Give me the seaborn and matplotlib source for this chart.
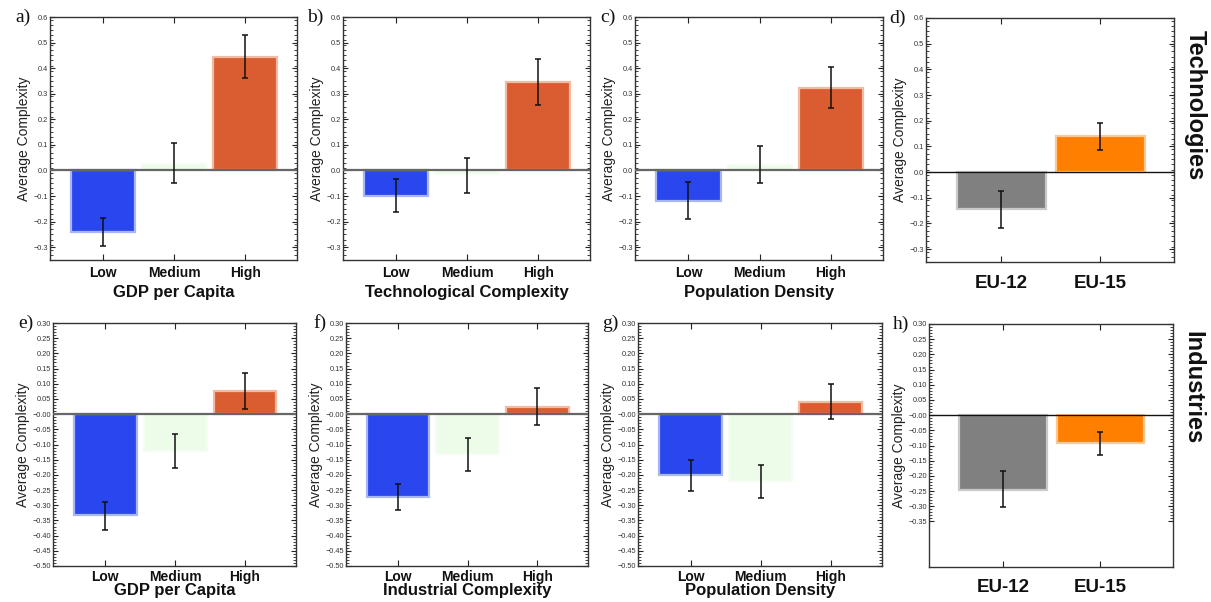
import numpy as np
import pandas as pd
import matplotlib
matplotlib.use("Agg")
import matplotlib.pyplot as plt
from matplotlib.ticker import FixedLocator
import seaborn as sns

sns.set_theme(style="white")
plt.rcParams["font.family"] = ["Liberation Sans", "DejaVu Sans"]

# ---- data -------------------------------------------------------------
levels = ["Low", "Medium", "High"]
regions = ["EU-12", "EU-15"]

# Technologies (top row)
tech_gdp = [-0.240, 0.025, 0.445]
tech_gdp_lo = [-0.295, -0.048, 0.362]
tech_gdp_hi = [-0.185, 0.107, 0.530]

tech_cplx = [-0.100, -0.015, 0.345]
tech_cplx_lo = [-0.162, -0.090, 0.257]
tech_cplx_hi = [-0.035, 0.050, 0.435]

tech_dens = [-0.120, 0.022, 0.322]
tech_dens_lo = [-0.190, -0.050, 0.243]
tech_dens_hi = [-0.047, 0.094, 0.406]

tech_eu = [-0.144, 0.139]
tech_eu_lo = [-0.218, 0.086]
tech_eu_hi = [-0.073, 0.191]

# Industries (bottom row)
ind_gdp = [-0.333, -0.122, 0.077]
ind_gdp_lo = [-0.382, -0.176, 0.018]
ind_gdp_hi = [-0.288, -0.066, 0.136]

ind_cplx = [-0.274, -0.131, 0.024]
ind_cplx_lo = [-0.317, -0.188, -0.037]
ind_cplx_hi = [-0.229, -0.077, 0.087]

ind_dens = [-0.200, -0.221, 0.041]
ind_dens_lo = [-0.254, -0.275, -0.015]
ind_dens_hi = [-0.150, -0.169, 0.099]

ind_eu = [-0.245, -0.093]
ind_eu_lo = [-0.304, -0.130]
ind_eu_hi = [-0.184, -0.056]

# ---- styling ----------------------------------------------------------
level_colors = {"Low": "#2a47ef", "Medium": "#edfbe9", "High": "#d95d30"}
level_edges = {"Low": "#aab7f7", "Medium": "#f5fdf3", "High": "#f2b9a5"}
region_colors = {"EU-12": "#808080", "EU-15": "#ff8000"}
region_edges = {"EU-12": "#c9c9c9", "EU-15": "#ffc890"}

W, H = 1211, 602
fig = plt.figure(figsize=(W / 100, H / 100), dpi=100)


def axes_at(left, top, right, bottom):
    return fig.add_axes([left / W, 1 - bottom / H, (right - left) / W, (bottom - top) / H])


def panel(ax, cats, vals, lo, hi, colors, edges, letter, xlabel, ylim,
          major, minor, tick_range=None, eu=False, xpad=4):
    df = pd.DataFrame({"cat": cats, "val": vals})
    sns.barplot(data=df, x="cat", y="val", hue="cat", palette=colors,
                order=cats, hue_order=cats, width=0.9, errorbar=None,
                legend=False, ax=ax, saturation=1)
    for patch, c in zip(ax.patches, cats):
        patch.set_edgecolor(edges[c])
        patch.set_linewidth(1.6)
    x = np.arange(len(cats))
    v = np.array(vals)
    yerr = np.vstack([v - np.array(lo), np.array(hi) - v])
    ax.errorbar(x, v, yerr=yerr, fmt="none", ecolor="#111111",
                elinewidth=1.1, capsize=2.2, capthick=1.1, zorder=5)
    if eu:
        ax.axhline(0, color="#111111", lw=1.0, zorder=4)
        ax.set_xlim(-0.76, 1.745)
    else:
        ax.axhline(0, color="#666666", lw=1.6, zorder=4)
        ax.set_xlim(-0.75, 2.73)
    ax.set_ylim(*ylim)

    if tick_range is None:
        lo_t, hi_t = ylim
    else:
        lo_t, hi_t = tick_range
    majors = np.round(np.arange(np.ceil(lo_t / major - 1e-6) * major, hi_t + 1e-9, major), 4)
    minors = np.round(np.arange(lo_t, hi_t + 1e-9, minor), 4)
    ax.yaxis.set_major_locator(FixedLocator(majors))
    ax.yaxis.set_minor_locator(FixedLocator(minors))
    fmt = "{:.2f}" if major < 0.1 else "{:.1f}"
    ax.set_yticklabels([fmt.format(m).replace("-", "\u2212") for m in majors])
    ax.tick_params(axis="y", which="major", direction="in", length=3.5, width=0.8,
                   left=True, right=True, labelsize=5.3, labelcolor="#333333", pad=1.5,
                   color="#222222")
    ax.tick_params(axis="y", which="minor", direction="in", length=2, width=0.6,
                   left=True, right=True, color="#222222")
    ax.tick_params(axis="x", which="major", direction="in", length=4, width=0.8,
                   bottom=True, top=True, color="#222222",
                   labelsize=13.5 if eu else 10, pad=9 if eu else xpad,
                   labelcolor="#111111")
    for t in ax.get_xticklabels():
        t.set_fontweight("bold")

    ax.set_ylabel("Average Complexity", fontsize=10, color="#222222", labelpad=2)
    if xlabel:
        ax.set_xlabel(xlabel, fontsize=12, fontweight="bold", color="#111111")
    else:
        ax.set_xlabel("")
    for s in ax.spines.values():
        s.set_color("#333333")
        s.set_linewidth(1.0)
        s.set_visible(True)
    ax.text(-0.08, 1.0, letter, transform=ax.transAxes, ha="right", va="center",
            fontsize=14, family=["Liberation Serif", "DejaVu Serif"], color="#111111")


# top row
ax_a = axes_at(50, 17, 297, 260)
ax_b = axes_at(343, 17, 590, 260)
ax_c = axes_at(635, 17, 883, 260)
ax_d = axes_at(926, 18, 1174, 262)
# bottom row
ax_e = axes_at(53, 323, 296, 566)
ax_f = axes_at(346, 323, 588, 566)
ax_g = axes_at(638, 323, 882, 566)
ax_h = axes_at(929, 324, 1173, 567)

top_lim = (-0.35, 0.6)
bot_lim = (-0.5, 0.3)

panel(ax_a, levels, tech_gdp, tech_gdp_lo, tech_gdp_hi, level_colors, level_edges,
      "a)", "GDP per Capita", top_lim, 0.1, 0.02)
panel(ax_b, levels, tech_cplx, tech_cplx_lo, tech_cplx_hi, level_colors, level_edges,
      "b)", "Technological Complexity", top_lim, 0.1, 0.02)
panel(ax_c, levels, tech_dens, tech_dens_lo, tech_dens_hi, level_colors, level_edges,
      "c)", "Population Density", top_lim, 0.1, 0.02)
panel(ax_d, regions, tech_eu, tech_eu_lo, tech_eu_hi, region_colors, region_edges,
      "d)", None, top_lim, 0.1, 0.02, eu=True)

panel(ax_e, levels, ind_gdp, ind_gdp_lo, ind_gdp_hi, level_colors, level_edges,
      "e)", "GDP per Capita", bot_lim, 0.05, 0.01, xpad=3)
panel(ax_f, levels, ind_cplx, ind_cplx_lo, ind_cplx_hi, level_colors, level_edges,
      "f)", "Industrial Complexity", bot_lim, 0.05, 0.01, xpad=3)
panel(ax_g, levels, ind_dens, ind_dens_lo, ind_dens_hi, level_colors, level_edges,
      "g)", "Population Density", bot_lim, 0.05, 0.01, xpad=3)
panel(ax_h, regions, ind_eu, ind_eu_lo, ind_eu_hi, region_colors, region_edges,
      "h)", None, bot_lim, 0.05, 0.01, tick_range=(-0.35, 0.3), eu=True)

# x-label placement
for ax in (ax_a, ax_b, ax_c):
    ax.xaxis.set_label_coords(0.5, -0.132)
    ax.xaxis.label.set_va("center")
for ax in (ax_e, ax_f, ax_g):
    ax.xaxis.set_label_coords(0.5, -0.072)
    ax.xaxis.label.set_va("top")

# row titles
fig.text(1195 / W, 1 - 105 / H, "Technologies", rotation=-90, ha="center", va="center",
         fontsize=17, fontweight="bold", color="#111111")
fig.text(1193 / W, 1 - 388 / H, "Industries", rotation=-90, ha="center", va="center",
         fontsize=17, fontweight="bold", color="#111111")

fig.savefig("out.png", dpi=100, facecolor="white")
